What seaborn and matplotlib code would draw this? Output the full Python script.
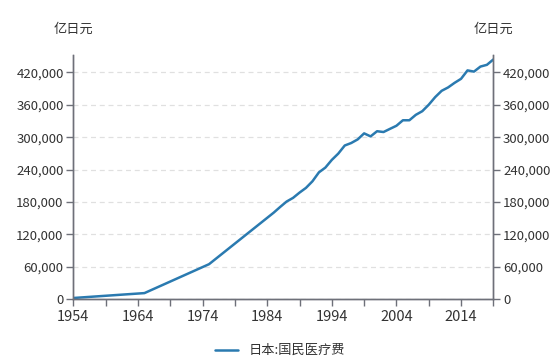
import matplotlib
matplotlib.use("Agg")
import matplotlib.pyplot as plt
import matplotlib.ticker as mticker
import seaborn as sns
import pandas as pd

# Japan national medical expenditure (亿日元)
years = [1954, 1965, 1975] + list(range(1985, 2020))
values = [
    2152, 11224, 64779,
    160159, 170690, 180759, 187554, 197290,
    206074, 218260, 234784, 243631, 257908,
    269577, 284542, 289149, 295823, 307019,
    301418, 310998, 309507, 315375, 321111,
    331289, 331276, 341360, 348084, 360067,
    374202, 385850, 392117, 400610, 408071,
    423644, 421381, 430710, 433949, 443895,
]
series_name = "日本:国民医疗费"
unit = "亿日元"
y_ticks = list(range(0, 420001, 60000))
x_ticks = list(range(1954, 2020, 5))

df = pd.DataFrame({"year": years, "value": values, "series": series_name})

sns.set_theme(style="white")
plt.rcParams["font.family"] = ["Noto Sans CJK SC", "DejaVu Sans"]

line_color = "#2a7ab0"
axis_color = "#6e7079"
text_color = "#333333"

fig = plt.figure(figsize=(5.6, 3.6), dpi=100)
ax = fig.add_axes([0.131, 0.169, 0.750, 0.678])

sns.lineplot(data=df, x="year", y="value", hue="series",
             palette=[line_color], linewidth=1.8, ax=ax)

ax.set_xlim(1954, 2019)
ax.set_ylim(0, 452000)
ax.set_xlabel("")
ax.set_ylabel("")

ax.set_xticks(x_ticks)
ax.set_xticklabels([str(y) if (y - 1954) % 10 == 0 else "" for y in x_ticks])
ax.set_yticks(y_ticks)
ax.yaxis.set_major_formatter(mticker.FuncFormatter(lambda v, p: f"{int(v):,}"))

ax.grid(axis="y", color="#e0e0e0", linestyle=(0, (4, 3)), linewidth=0.9)
ax.set_axisbelow(True)

ax2 = ax.twinx()
ax2.set_ylim(ax.get_ylim())
ax2.set_yticks(y_ticks)
ax2.yaxis.set_major_formatter(mticker.FuncFormatter(lambda v, p: f"{int(v):,}"))
ax2.grid(False)

for a in (ax, ax2):
    a.spines["top"].set_visible(False)
    for s in ("left", "right", "bottom"):
        a.spines[s].set_color(axis_color)
        a.spines[s].set_linewidth(1)
    a.tick_params(axis="both", which="both", length=5, width=1, color=axis_color,
                  labelsize=9.5, labelcolor=text_color, pad=2, direction="out")
ax.tick_params(axis="y", left=True)
ax2.tick_params(axis="y", right=True)
ax.tick_params(axis="x", bottom=True, pad=3, labelsize=10.5)

ax.text(0.0, 1.08, unit, transform=ax.transAxes, ha="center", va="bottom",
        fontsize=9.5, color=text_color)
ax.text(1.0, 1.08, unit, transform=ax.transAxes, ha="center", va="bottom",
        fontsize=9.5, color=text_color)

ax.legend_.remove()
handles, labels = ax.get_legend_handles_labels()
fig.legend(handles, labels, loc="lower center", bbox_to_anchor=(0.5, -0.025),
           frameon=False, fontsize=9.5, handlelength=1.8, labelcolor=text_color)

fig.savefig("out.png", dpi=100)
